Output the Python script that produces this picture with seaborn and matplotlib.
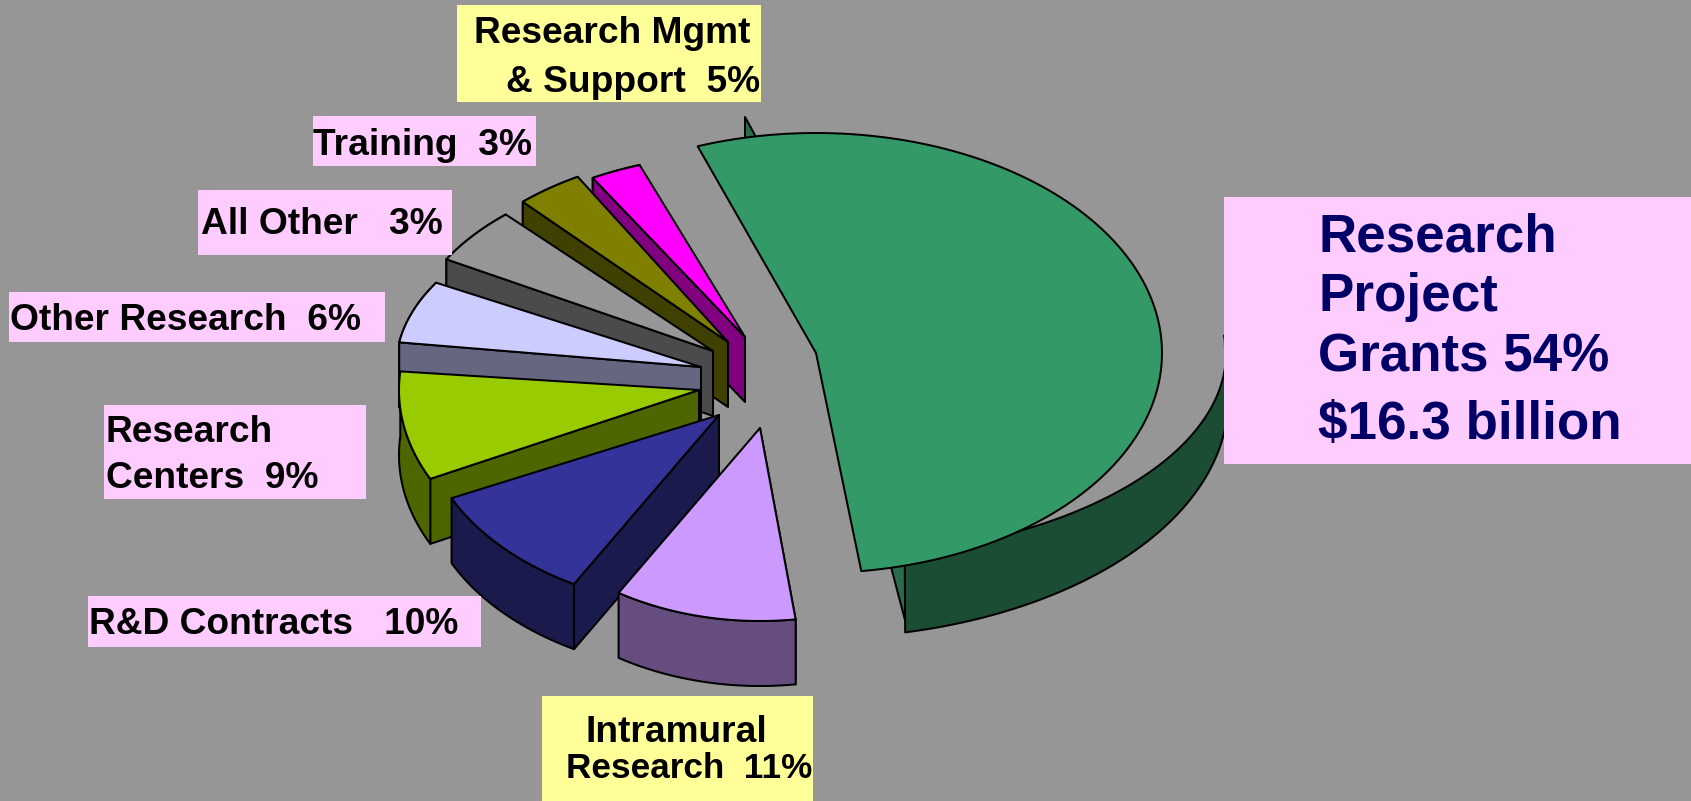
import numpy as np
import pandas as pd
import seaborn as sns
import matplotlib
matplotlib.use("Agg")
import matplotlib.pyplot as plt
from matplotlib.patches import Polygon, Rectangle

# ---- data -------------------------------------------------------------
slices = ["Research Project Grants", "Intramural Research", "R&D Contracts", "Research Centers",
          "Other Research", "All Other", "Training", "Research Mgmt & Support"]
labelled_pct = [54, 11, 10, 9, 6, 3, 3, 5]
drawn_share = [54.0, 10.9, 9.9, 8.9, 6.0, 5.0, 3.6, 2.7]   # sweep

top_colors = ["#339966", "#CC99FF", "#333399", "#99CC00", "#CCCCFF", "#969696", "#808000", "#FF00FF"]
wall_colors = ["#1A4D33", "#664D80", "#1A1A4D", "#4D6600", "#666680", "#4B4B4B", "#404000", "#800080"]

# ---- layout -----------------------------------------------------------
PIE_X, PIE_Y = 720, 380
explode_x = [96, 40, -1, -21, -19, -7, 8, 25]
explode_y = [-27, 48, 35, 10, -13, -29, -38, -43]
radius_x = [346, 272, 296, 300, 305, 307, 304, 308]
radius_y = [220, 193, 194, 200, 170, 185, 190, 183]
twist = [0, 0, 2, 3, 0, 0, 0, 0]
DEPTH = 65
START = 110
LW = 1.45
BG = "#969696"

sns.set_theme(style="white", rc={"figure.facecolor": BG, "axes.facecolor": BG})
plt.rcParams["font.family"] = ["Liberation Sans", "DejaVu Sans"]

df = pd.DataFrame(dict(slice=slices, pct=labelled_pct, share=drawn_share, top=top_colors, wall=wall_colors,
                       ex=explode_x, ey=explode_y, rx=radius_x, ry=radius_y, tw=twist))
sweep = df["share"] / df["share"].sum() * 360
df["t0"] = START - np.r_[0, np.cumsum(sweep)[:-1]]
df["t1"] = df["t0"] - sweep

fig = plt.figure(figsize=(16.91, 8.01), dpi=100, facecolor=BG)
ax = fig.add_axes([0, 0, 1, 1])
ax.set_xlim(0, 1691)
ax.set_ylim(801, 0)
ax.axis("off")


def poly(pts, color, z):
    ax.add_patch(Polygon(pts, closed=True, facecolor=color, edgecolor="black", lw=LW, joinstyle="round", zorder=z))


def arc(cx, cy, rx, ry, a, b):
    t = np.radians(np.linspace(a, b, 120))
    return np.c_[cx + rx * np.cos(t), cy - ry * np.sin(t)]


# Large slice: its rim is displaced from the lid, so it is drawn as a separate band
g = df.iloc[0]
cx, cy = PIE_X + g.ex, PIE_Y + g.ey
outer_top = arc(cx, cy, 410, 205, -77.5, 5)
outer_low = arc(cx, cy + 47, 412, 238, -77.5, 5)
poly([(cx - 71, cy - 236), (cx - 71, cy - 213), (cx - 6, cy - 118)], "#2A6B4D", 1)
poly([(cx + 75, cy + 214), (cx + 89, cy + 267), (cx + 89, cy + 205)], "#2A6B4D", 1)
poly(np.r_[outer_top, outer_low[::-1]], g.wall, 2)
poly(np.r_[[(cx, cy)], arc(cx, cy, g.rx, g.ry, g.t0, g.t1)], g.top, 3)

# Remaining slices, back to front
for z, (_, s) in zip(range(10, 100, 10), df.iloc[:0:-1].iterrows()):
    cx, cy = PIE_X + s.ex, PIE_Y + s.ey
    rim = arc(cx, cy, s.rx, s.ry, s.t0 + s.tw, s.t1 + s.tw)
    low = rim + [0, DEPTH]
    first = rim[0]
    # on the far side of the pie the cut face hides the rim; on the near side the rim hides the cut face
    at_back = s.t0 + s.tw < -180
    poly([(cx, cy), (cx, cy + DEPTH), first + [0, DEPTH], first], s.wall, z + (1 if at_back else 0))
    poly(np.r_[rim, low[::-1]], s.wall, z + (0 if at_back else 1))
    poly(np.r_[[(cx, cy)], rim], s.top, z + 2)

# ---- labels -----------------------------------------------------------
PINK, YELLOW, NAVY = "#FFCCFF", "#FFFF99", "#000066"
boxes = [
    (457, 5, 304, 97, YELLOW), (313, 116, 223, 50, PINK), (198, 190, 254, 65, PINK),
    (9, 292, 376, 50, PINK), (104, 405, 262, 94, PINK), (88, 596, 393, 51, PINK),
    (542, 696, 271, 105, YELLOW), (1224, 197, 467, 267, PINK),
]
for x, y, w, h, c in boxes:
    ax.add_patch(Rectangle((x, y), w, h, facecolor=c, edgecolor="none", zorder=200))

small = [
    (474, 43, "Research Mgmt", 26.7), (506, 92, "& Support  5%", 26.7), (313, 155, "Training  3%", 26.7),
    (201, 234, "All Other   3%", 26.7), (10, 330, "Other Research  6%", 26.7), (106, 442, "Research", 26.7),
    (106, 488, "Centers  9%", 26.7), (89, 634, "R&D Contracts   10%", 26.7), (586, 742, "Intramural", 26.7),
    (566, 778, "Research  11%", 25.3),
]
for x, y, t, fs in small:
    ax.text(x, y, t, fontsize=fs, fontweight="bold", color="black", va="baseline", ha="left", zorder=210)
large = [(1318, 252, "Research"), (1318, 311, "Project"), (1318, 372, "Grants 54%"), (1318, 439, "$16.3 billion")]
for x, y, t in large:
    ax.text(x, y, t, fontsize=38.2, fontweight="bold", color=NAVY, va="baseline", ha="left", zorder=210)

fig.savefig("out.png", dpi=100, facecolor=BG)
